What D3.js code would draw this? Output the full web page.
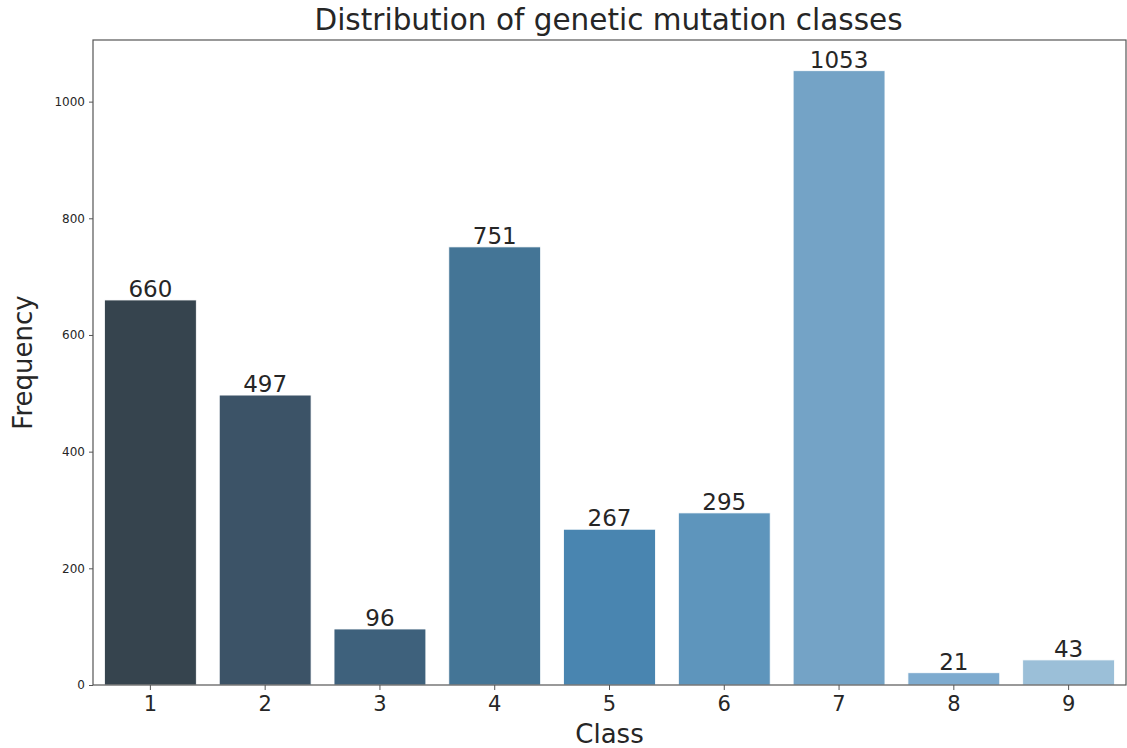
<!DOCTYPE html>
<html lang="en">
<head>
<meta charset="UTF-8">
<script src="https://d3js.org/d3.v7.min.js"></script>
<title>Distribution of genetic mutation classes</title>
<style>
  body { margin: 0; background: #fff; }
  svg text { font-family: "DejaVu Sans", sans-serif; fill: #262626; }
  .axis path, .axis line { stroke: #555; }
</style>
</head>
<body>
<svg id="chart" width="1127" height="748"></svg>
<script>
const classes = ["1", "2", "3", "4", "5", "6", "7", "8", "9"];
const counts = [660, 497, 96, 751, 267, 295, 1053, 21, 43];
const barColors = ["#36444e", "#3c5367", "#3e617c", "#447596", "#4985b0", "#5e95bc", "#74a3c6", "#7eabcf", "#9bbfd8"];
const yTicks = [0, 200, 400, 600, 800, 1000];

const svg = d3.select("#chart");
const margin = {top: 40, right: 1, bottom: 63, left: 93};
const chartWidth = 1127 - margin.left - margin.right;
const chartHeight = 748 - margin.top - margin.bottom;

const x = d3.scaleBand().domain(classes).range([0, chartWidth]).paddingInner(0.2).paddingOuter(0.1);
const y = d3.scaleLinear().domain([0, d3.max(counts) * 1.05]).range([chartHeight, 0]);

const g = svg.append("g").attr("transform", "translate(" + margin.left + "," + margin.top + ")");

const rows = classes.map((c, i) => ({cls: c, n: counts[i], color: barColors[i]}));

g.selectAll("rect.bar").data(rows)
  .join("rect")
  .attr("class", "bar")
  .attr("x", d => x(d.cls))
  .attr("y", d => y(d.n))
  .attr("width", x.bandwidth())
  .attr("height", d => chartHeight - y(d.n))
  .attr("fill", d => d.color)
  .attr("stroke", "#ffffff")
  .attr("stroke-width", 0.8);

g.selectAll("text.val").data(rows)
  .join("text")
  .attr("class", "val")
  .attr("x", d => x(d.cls) + x.bandwidth() / 2)
  .attr("y", d => y(d.n) - 3)
  .attr("text-anchor", "middle")
  .style("font-size", "23px")
  .text(d => d.n);

// frame
g.append("rect")
  .attr("width", chartWidth).attr("height", chartHeight)
  .attr("fill", "none").attr("stroke", "#555").attr("stroke-width", 1.2);

const leftAxis = d3.axisLeft(y).tickValues(yTicks).tickFormat(d3.format("d")).tickSize(4).tickPadding(4);
g.append("g").attr("class", "axis").call(leftAxis)
  .call(a => a.select(".domain").remove())
  .selectAll("text").style("font-size", "12px");

const bottomAxis = d3.axisBottom(x).tickSize(5).tickPadding(6);
g.append("g").attr("class", "axis")
  .attr("transform", "translate(0," + chartHeight + ")")
  .call(bottomAxis)
  .call(a => a.select(".domain").remove())
  .selectAll("text").style("font-size", "21px");

svg.append("text")
  .attr("x", margin.left + chartWidth / 2 - 1).attr("y", 30)
  .attr("text-anchor", "middle")
  .style("font-size", "29.5px")
  .text("Distribution of genetic mutation classes");

svg.append("text")
  .attr("x", margin.left + chartWidth / 2).attr("y", 743)
  .attr("text-anchor", "middle")
  .style("font-size", "26px")
  .text("Class");

svg.append("text")
  .attr("transform", "translate(32," + (margin.top + chartHeight / 2) + ") rotate(-90)")
  .attr("text-anchor", "middle")
  .style("font-size", "26px")
  .text("Frequency");
</script>
</body>
</html>
